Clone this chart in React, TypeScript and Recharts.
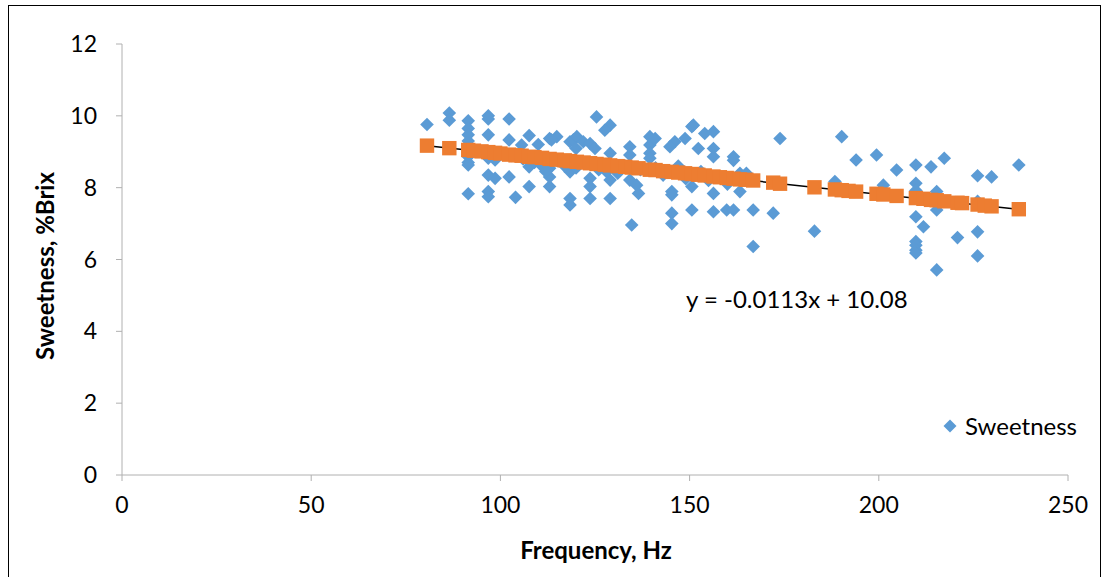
import React from "react";
import { ScatterChart, Scatter, XAxis, YAxis, ReferenceLine } from "recharts";

// Measured points (Frequency Hz, Sweetness %Brix)
const sweetness: { x: number; y: number }[] = [
  [80.6, 9.76], [86.5, 10.08], [86.5, 9.88], [91.5, 9.86], [91.5, 9.65], [91.5, 9.47], [91.5, 9.3],
  [91.5, 8.86], [91.5, 8.7], [91.5, 8.63], [91.5, 7.83], [96.8, 10.0], [96.8, 9.91], [96.8, 9.47],
  [96.8, 8.82], [96.8, 8.35], [96.8, 7.89], [96.8, 7.75], [98.6, 8.26], [98.6, 8.77], [102.3, 9.91],
  [102.3, 9.33], [102.3, 8.3], [104, 7.73], [105.6, 9.19], [107.6, 9.45], [107.6, 8.58], [107.6, 8.03],
  [113, 9.37], [114.9, 9.42], [118.4, 9.28], [119.3, 9.33], [120.2, 9.42], [121.9, 9.28], [123.7, 9.23],
  [120, 9.09], [125, 9.09], [125.4, 9.97], [129, 9.74], [127.6, 9.6], [129, 8.96], [134.2, 9.14],
  [134.2, 8.91], [139.5, 9.42], [139.5, 9.19], [139.5, 8.96], [139.5, 8.82], [113, 8.54], [113, 8.3],
  [113, 8.03], [112.2, 8.49], [118.4, 8.44], [118.4, 7.7], [118.4, 7.52], [123.7, 8.26], [123.7, 8.03],
  [123.7, 7.7], [129, 8.21], [129, 7.7], [134.2, 8.21], [136, 8.07], [136.5, 7.84], [134.7, 6.96],
  [151, 9.74], [150.6, 9.7], [154, 9.51], [156.3, 9.56], [146.1, 9.28], [148.8, 9.37], [144.8, 9.14],
  [140.9, 9.37], [152.3, 9.09], [156.3, 9.09], [156.3, 8.86], [161.6, 8.86], [161.6, 8.76], [173.9, 9.37],
  [145.3, 7.89], [145.3, 7.8], [145.3, 7.29], [145.3, 7.0], [150.6, 8.03], [150.6, 7.38], [156.3, 7.84],
  [156.3, 7.33], [159.8, 7.38], [161.6, 7.38], [163.3, 7.89], [163.3, 8.4], [165, 8.4], [166.8, 7.38],
  [166.8, 6.36], [172.1, 7.29], [190.2, 9.42], [194, 8.77], [199.4, 8.91], [204.7, 8.49], [209.8, 8.63],
  [188.4, 8.17], [201.2, 8.07], [183, 6.79], [209.8, 8.12], [209.8, 7.92], [209.8, 7.19], [209.8, 6.5],
  [209.8, 6.4], [209.8, 6.26], [209.8, 6.18], [217.3, 8.82], [213.8, 8.58], [237, 8.63], [226.1, 8.33],
  [229.8, 8.3], [215.3, 7.89], [215.3, 7.38], [211.8, 6.91], [220.8, 6.61], [226.1, 6.77], [226.1, 6.1],
  [215.3, 5.71], [226.1, 7.62], [100, 8.95], [103, 8.9], [106, 8.8], [109, 8.7], [111, 8.6], [112, 8.45],
  [115, 8.75], [117, 8.6], [120, 8.55], [122, 8.7], [126, 8.5], [128, 8.45], [131, 8.4], [133, 8.6],
  [137, 8.5], [141, 8.55], [143, 8.35], [147, 8.6], [149, 8.25], [153, 8.45], [155, 8.2], [158, 8.3],
  [160, 8.1], [113.5, 9.33], [110, 9.2],
].map(([x, y]) => ({ x, y }));

// Predicted values (orange squares)
const predX = [80.6, 86.5, 91.5, 93, 95, 96.8, 98.6, 100, 102.3, 104, 105.6, 107.6, 109, 111, 113, 114.9,
  117, 118.4, 120.2, 122, 123.7, 125.4, 127.6, 129, 131, 133, 134.7, 136.5, 139.5, 141, 143, 145.3, 147,
  148.8, 150.6, 152.3, 154, 156.3, 158, 159.8, 161.6, 163.3, 165, 166.8, 172.1, 173.9, 183, 188.4, 190.2,
  192, 194, 199.4, 201.2, 204.7, 209.8, 211.8, 213.8, 215.3, 217.3, 220.8, 222, 226.1, 228, 229.8, 237];
const predY = [9.17, 9.10, 9.05, 9.03, 9.01, 8.99, 8.97, 8.95, 8.92, 8.90, 8.89, 8.86, 8.85, 8.83, 8.80, 8.78,
  8.76, 8.74, 8.72, 8.70, 8.68, 8.66, 8.64, 8.62, 8.60, 8.58, 8.56, 8.54, 8.50, 8.49, 8.46, 8.44, 8.42,
  8.40, 8.38, 8.36, 8.34, 8.31, 8.29, 8.27, 8.25, 8.23, 8.22, 8.20, 8.14, 8.11, 8.01, 7.95, 7.93,
  7.91, 7.89, 7.83, 7.81, 7.77, 7.71, 7.69, 7.66, 7.65, 7.62, 7.58, 7.57, 7.53, 7.50, 7.48, 7.40];
const predicted = predX.map((x, i) => ({ x, y: predY[i] }));

const trendStart = { x: 80.6, y: 9.17 };
const trendEnd = { x: 237, y: 7.4 };

const xTicks = [0, 50, 100, 150, 200, 250];
const yTicks = [0, 2, 4, 6, 8, 10, 12];

const equationText = "y = -0.0113x + 10.08";
const seriesName = "Sweetness";
const xTitle = "Frequency, Hz";
const yTitle = "Sweetness, %Brix";

const BLUE = "#5B9BD5";
const ORANGE = "#ED7D31";
const FONT = "Lato, 'Open Sans', sans-serif";

const Diamond = (props: any) => {
  const { cx, cy } = props;
  if (cx == null || cy == null) return null;
  const r = 6.8;
  return <path d={`M${cx},${cy - r}L${cx + r},${cy}L${cx},${cy + r}L${cx - r},${cy}Z`} fill={BLUE} />;
};

const Square = (props: any) => {
  const { cx, cy } = props;
  if (cx == null || cy == null) return null;
  const h = 7.2;
  return <rect x={cx - h} y={cy - h} width={2 * h} height={2 * h} fill={ORANGE} />;
};

export default function App() {
  return (
    <div style={{ position: "fixed", left: 0, top: 0, width: 1103, height: 577, overflow: "hidden", background: "#fff" }}>
      <div style={{ position: "absolute", left: 8, top: 5, width: 1093, height: 600, border: "1px solid #000", boxSizing: "border-box" }} />
      <ScatterChart width={1103} height={577} margin={{ top: 44, right: 35, bottom: 62, left: 0 }}>
        <XAxis
          type="number"
          dataKey="x"
          domain={[0, 250]}
          ticks={xTicks}
          height={40}
          stroke="#B0B0B0"
          tickSize={6}
          tickMargin={16}
          tick={{ fill: "#000", fontSize: 23, fontFamily: FONT }}
          allowDataOverflow
        />
        <YAxis
          type="number"
          dataKey="y"
          domain={[0, 12]}
          ticks={yTicks}
          width={122}
          stroke="#B0B0B0"
          tickSize={6}
          tickMargin={19}
          tick={{ fill: "#000", fontSize: 23, fontFamily: FONT }}
          allowDataOverflow
        />
        <Scatter name={seriesName} data={sweetness} shape={<Diamond />} isAnimationActive={false} />
        <Scatter name="Predicted" data={predicted} shape={<Square />} isAnimationActive={false} legendType="none" />
        <ReferenceLine segment={[trendStart, trendEnd]} stroke="#000" strokeWidth={1.5} />
      </ScatterChart>
      <div style={{ position: "absolute", left: 943, top: 411, display: "flex", alignItems: "center", fontFamily: FONT, fontSize: 24, color: "#000" }}>
        <svg width={14} height={14} style={{ marginRight: 8 }}>
          <path d="M7,0.5L13.5,7L7,13.5L0.5,7Z" fill={BLUE} />
        </svg>
        <span>{seriesName}</span>
      </div>
      <div style={{ position: "absolute", left: 686, top: 284, fontFamily: FONT, fontSize: 24, color: "#000", whiteSpace: "nowrap" }}>
        {equationText}
      </div>
      <div style={{ position: "absolute", left: 296, top: 535, width: 600, textAlign: "center", fontFamily: FONT, fontSize: 24, fontWeight: 700, color: "#000" }}>
        {xTitle}
      </div>
      <div style={{ position: "absolute", left: 45, top: 266, width: 0, height: 0 }}>
        <div style={{ position: "absolute", left: -150, top: -15, width: 300, height: 30, lineHeight: "30px", textAlign: "center", transform: "rotate(-90deg)", fontFamily: FONT, fontSize: 24, fontWeight: 700, color: "#000", whiteSpace: "nowrap" }}>
          {yTitle}
        </div>
      </div>
    </div>
  );
}
